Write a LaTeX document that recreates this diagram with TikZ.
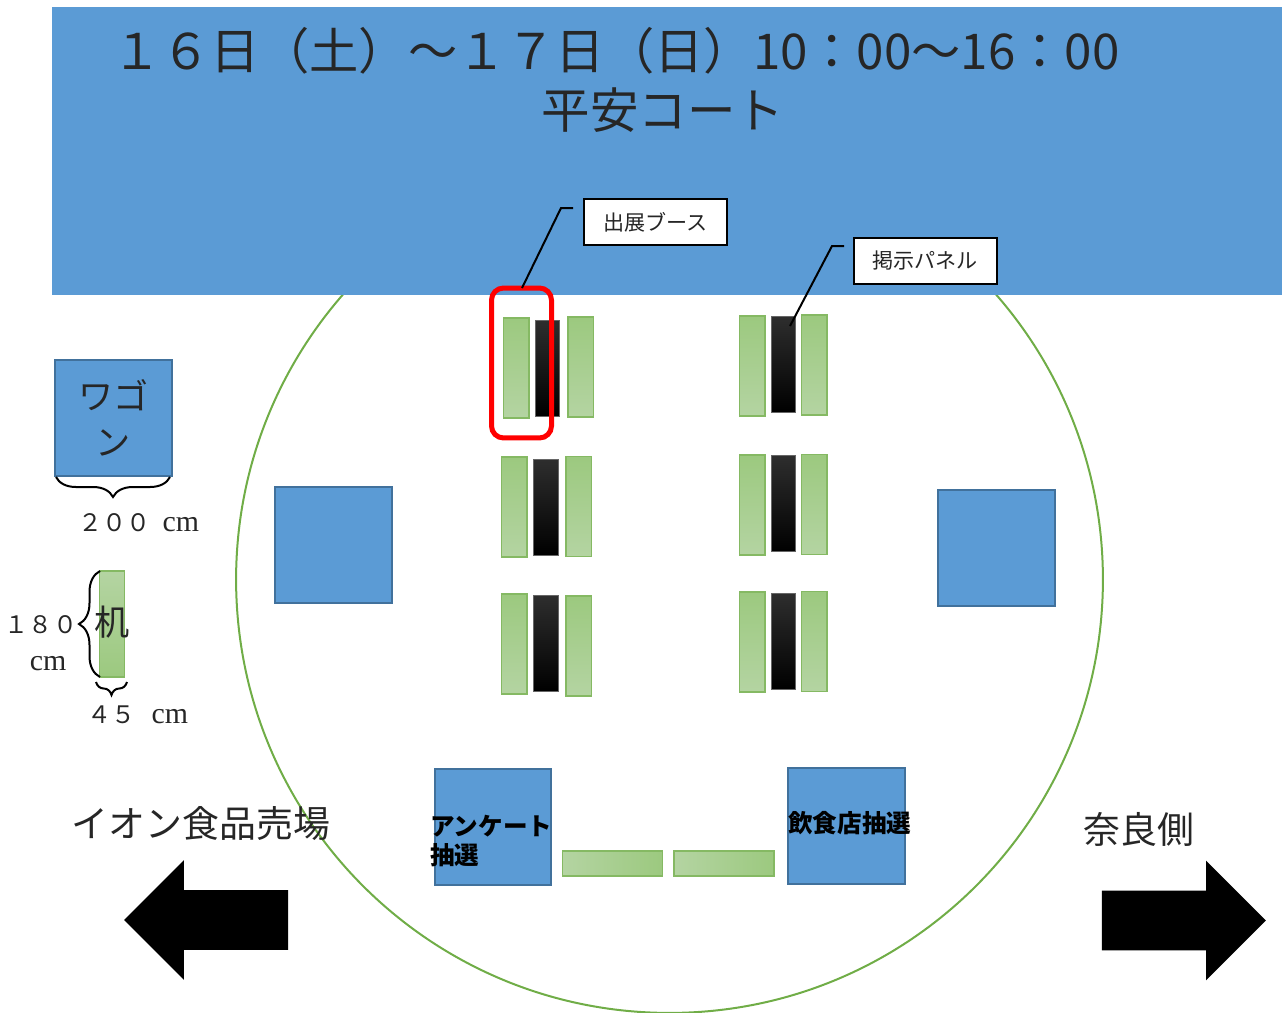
\documentclass[tikz,border=0pt]{standalone}
\usepackage{fontspec}
\setmainfont{Noto Sans CJK JP}
\newfontfamily\latinfont{Liberation Serif}
\usetikzlibrary{shapes.arrows,decorations.pathreplacing}

\definecolor{bandblue}{HTML}{5B9BD5}
\definecolor{edgeblue}{HTML}{41719C}
\definecolor{deskgreen}{HTML}{70AD47}
\definecolor{deskdark}{HTML}{9CC97F}
\definecolor{desklight}{HTML}{B4D4A2}
\definecolor{inkgrey}{HTML}{262626}

\newcommand{\cmword}{{\latinfont\fontsize{17}{21}\selectfont cm}}

\tikzset{
    wagon/.style={draw=edgeblue,fill=bandblue,line width=0.04cm,minimum width=2.34cm,minimum height=2.32cm,inner sep=0pt},
    desk/.style={draw=deskgreen!85,line width=0.03cm,top color=deskdark,bottom color=desklight,minimum width=0.51cm,minimum height=2cm,inner sep=0pt},
    lyingdesk/.style={draw=deskgreen!85,line width=0.03cm,left color=desklight,right color=deskdark,minimum width=2cm,minimum height=0.5cm,inner sep=0pt},
    panel/.style={draw=black!60,line width=0.015cm,top color=black!82,middle color=black,bottom color=black,minimum width=0.49cm,minimum height=1.92cm,inner sep=0pt},
    callout/.style={draw=black,fill=white,line width=0.04cm,minimum width=2.86cm,minimum height=0.92cm,inner sep=0pt,font=\fontsize{12}{14}\selectfont,text=inkgrey},
    leader/.style={draw=black,line width=0.04cm},
    bigarrow/.style={single arrow,fill=black,text height=1.18cm,text depth=0pt,minimum height=3.28cm,single arrow head extend=0.6cm,inner sep=0pt},
    size/.style={font=\fontsize{13.7}{21}\selectfont,text=inkgrey,inner sep=0pt},
    sizebrace/.style={draw=black,line width=0.04cm,decorate},
    side/.style={font=\fontsize{21}{25}\selectfont,text=inkgrey,inner sep=0pt},
    booth/.style={font=\bfseries\fontsize{14}{17}\selectfont,inner sep=0pt,align=left}
}

\begin{document}
\begin{tikzpicture}[x=0.02cm,y=-0.02cm]
    \useasboundingbox ( 0, 0 ) rectangle ( 1284, 1012 );

    % venue
    \node[circle,draw=deskgreen,line width=0.04cm,minimum size=17.34cm,inner sep=0pt] (venue) at ( 669.5, 579.5 ) {};

    % court
    \node[fill=bandblue,minimum width=24.6cm,minimum height=5.76cm,inner sep=0pt] (court) at ( 667, 151 ) {};
    \node[font=\fontsize{28.05}{32}\selectfont,text=inkgrey,inner sep=0pt] (dates) at ( 616, 51 ) {１６日（土）～１７日（日）10：00～16：00};
    \node[font=\fontsize{27.6}{32}\selectfont,text=inkgrey,inner sep=0pt] (courtname) at ( 663, 110 ) {平安コート};

    % wagons
    \node[wagon] (wagonleft) at ( 333.5, 545 ) {};
    \node[wagon] (wagonright) at ( 996.5, 548 ) {};
    \node[wagon] (wagonsurvey) at ( 493, 827 ) {};
    \node[wagon] (wagonfood) at ( 846.5, 826 ) {};

    % desks
    \foreach \deskname/\cx/\cy in {a1/516/368,a2/580.5/367,b1/752/366,b2/814/365,
        c1/514/507,c2/578.5/506.5,d1/752/505,d2/814/504.5,
        e1/514/644,e2/578.5/646,f1/752/642,f2/814/641.5}
        \node[desk] (\deskname) at ( \cx, \cy ) {};

    % panels
    \foreach \panelname/\cx/\cy in {pa/547.5/368,pb/783.5/364,pc/546/507,pd/783.5/503.5,pe/546/643,pf/783.5/641.5}
        \node[panel] (\panelname) at ( \cx, \cy ) {};

    % lying desks
    \node[lyingdesk] (lyingleft) at ( 612.5, 863.5 ) {};
    \node[lyingdesk] (lyingright) at ( 724, 863.5 ) {};

    % red frame
    \node[draw=red,line width=0.1cm,rounded corners=0.24cm,minimum width=1.2cm,minimum height=3cm,inner sep=0pt] (frame) at ( 521.5, 363 ) {};

    % callouts
    \node[callout] (boothnote) at ( 655.5, 222 ) {出展ブース};
    \node[callout] (panelnote) at ( 925, 260.5 ) {掲示パネル};
    \coordinate (boothfree) at ( 573, 208 );
    \coordinate (boothbend) at ( 561, 208 );
    \coordinate (boothend) at ( 522, 288 );
    \coordinate (panelfree) at ( 844, 246 );
    \coordinate (panelbend) at ( 832, 246 );
    \coordinate (panelend) at ( 790, 326 );
    \draw[leader] (boothfree) -- (boothbend) -- (boothend);
    \draw[leader] (panelfree) -- (panelbend) -- (panelend);

    % legend
    \node[wagon,font=\fontsize{20}{26}\selectfont,text=inkgrey,align=center] (wagonkey) at ( 113.5, 418 ) {ワゴ\\ン};
    \coordinate (wbl) at ( 56, 477 );
    \coordinate (wbr) at ( 170, 477 );
    \draw[sizebrace,decoration={brace,mirror,amplitude=0.4cm}] (wbl) -- (wbr);
    \node[size] (wagonsize) at ( 138.5, 523 ) {２００\hspace{7pt}\cmword};

    \node[draw=deskgreen!85,line width=0.03cm,top color=desklight,bottom color=deskdark,minimum width=0.51cm,minimum height=2.12cm,inner sep=0pt] (deskkey) at ( 112, 624 ) {};
    \node[font=\fontsize{20}{24}\selectfont,text=inkgrey,inner sep=0pt] (deskword) at ( 112, 622 ) {机};
    \coordinate (dbt) at ( 100, 571 );
    \coordinate (dbb) at ( 100, 677 );
    \draw[sizebrace,decoration={brace,mirror,amplitude=0.42cm}] (dbt) -- (dbb);
    \node[size,align=center] (heightsize) at ( 41, 643 ) {１８０\\\hspace*{8pt}\cmword};
    \coordinate (sbl) at ( 96, 682 );
    \coordinate (sbr) at ( 127, 682 );
    \draw[sizebrace,decoration={brace,mirror,amplitude=0.26cm}] (sbl) -- (sbr);
    \node[size] (widthsize) at ( 138, 715 ) {４５\hspace{9pt}\cmword};

    % booth labels
    \node[booth,anchor=west] (surveylabel) at ( 430, 841 ) {アンケート\\抽選};
    \node[booth,anchor=west] (foodlabel) at ( 788, 823 ) {飲食店抽選};

    % sides
    \node[side] (aeon) at ( 201, 824 ) {イオン食品売場};
    \node[side] (nara) at ( 1139, 829 ) {奈良側};
    \node[bigarrow,shape border rotate=180] (arrowleft) at ( 221, 920 ) {};
    \node[bigarrow] (arrowright) at ( 1169, 920.5 ) {};
\end{tikzpicture}
\end{document}
